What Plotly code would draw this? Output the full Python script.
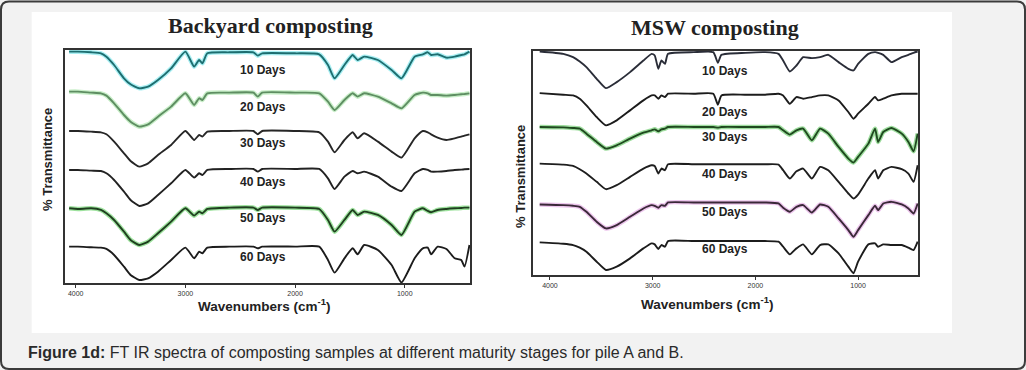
import plotly.graph_objects as go

# ---------------- data ----------------
day_labels = ["10 Days", "20 Days", "30 Days", "40 Days", "50 Days", "60 Days"]
tick_vals = [4000, 3000, 2000, 1000]
tick_text = ["4000", "3000", "2000", "1000"]

# Backyard composting (pile A): wavenumber grid (cm-1) and stacked % transmittance
wn_backyard = [4060, 3980, 3860, 3770, 3720, 3650, 3560, 3500, 3420, 3340, 3250, 3130,
               3000, 2920, 2875, 2845, 2800, 2600, 2380, 2340, 2300, 2000, 1780, 1700,
               1640, 1550, 1475, 1430, 1370, 1245, 1120, 1030, 910, 835, 790, 760, 700,
               620, 545, 485, 455, 410]
backyard_10d = [139, 139, 138.6, 138, 136, 131, 123, 119.4, 117, 118, 122, 129, 139, 130,
                134, 132, 138, 138.6, 138.6, 136.6, 138, 138, 137.4, 131, 123, 131, 137,
                134, 136, 134, 128, 123, 136, 137.4, 138.6, 137, 137.4, 135.4, 136, 137,
                137.4, 139]
backyard_20d = [115, 115, 114.4, 114, 112.6, 108, 101, 97, 94, 95.4, 100, 106, 114, 107,
                111, 110, 114, 114.4, 114.4, 112, 114.4, 114.4, 114, 109, 104, 110, 114,
                112, 114, 112, 108, 105, 113, 114.4, 114, 113, 113, 112.6, 113, 113.4,
                113.6, 114]
backyard_30d = [91.4, 91.4, 91, 90.6, 89.4, 85, 78, 73.4, 70, 72, 77, 83, 91.4, 86, 89, 88,
                91, 91.4, 91.4, 89.4, 91.4, 91.4, 90.6, 85, 78.6, 86, 90.6, 87, 90, 85, 79,
                75.4, 87, 91.4, 90.6, 89.4, 87.4, 86, 87, 88, 88.6, 89.4]
backyard_40d = [68, 68, 67.6, 67.4, 66, 62, 55, 50, 46.4, 48, 53, 60, 68, 63.4, 66, 65, 68,
                68.6, 68.6, 67, 68.6, 68.6, 68.6, 63, 56.6, 64, 67.4, 66, 67, 64, 58, 55.4,
                66, 68.6, 68, 67, 67, 67.4, 68, 68.2, 68.4, 68.6]
backyard_50d = [45, 44.6, 45, 44, 42, 38, 31, 26, 23, 25, 30, 37, 45, 40.6, 43, 42, 44.6,
                45.4, 45.4, 44, 45.4, 45.4, 44.6, 38, 31, 38, 44, 41, 43, 41, 35, 29, 43,
                45, 43.4, 42.6, 44, 44.6, 45, 45.2, 45.4, 45.4]
backyard_60d = [22, 22, 21.6, 21.4, 20.6, 17, 10, 5, 2, 3, 7, 14, 21.4, 15, 19, 18, 21.4,
                22, 22, 21, 22, 22, 22, 14, 6.4, 15, 21, 17.4, 23, 20, 11, 0.5, 15, 21,
                21.4, 17.4, 22, 20.6, 15, 14, 10, 23]

# MSW composting (pile B)
wn_msw = [4100, 3870, 3775, 3710, 3645, 3545, 3455, 3350, 3220, 3090, 3010, 2980, 2945,
          2915, 2880, 2850, 2600, 2410, 2365, 2330, 2100, 1905, 1775, 1730, 1665, 1600,
          1535, 1450, 1370, 1290, 1190, 1095, 1045, 1000, 900, 835, 805, 755, 675, 575,
          510, 460, 420]
msw_10d = [134.4, 133, 131, 128.4, 125, 118, 112.4, 116, 122, 129, 133, 132, 124, 129, 127,
           133, 134, 134, 127.6, 132.4, 133.6, 134, 133, 129, 122.4, 126, 131, 130.4, 131,
           132.4, 128, 124, 123, 127, 133, 134, 133.6, 132.4, 128, 131, 132.4, 133.6, 134.4]
msw_20d = [109.4, 108.4, 108, 106, 102, 95, 90, 93, 99, 105, 108, 108, 106, 108, 107, 109,
           109, 109, 102.4, 108, 108.4, 108.4, 109, 108, 103, 107, 106, 107, 108, 108, 105,
           98, 94, 97, 103, 107, 105, 106, 108, 109, 109, 109, 109]
msw_30d = [89, 88.8, 88.4, 88, 85, 80, 76, 78, 82, 85.6, 87, 87.6, 86.4, 87.6, 88, 89, 89,
           89, 88.6, 89, 89, 89, 89, 87, 84.4, 87, 88, 81, 88, 85, 77, 70, 67.6, 71, 79, 88,
           80, 86, 88.4, 85, 80, 74.4, 85]
msw_40d = [67, 66.4, 65.6, 63.6, 61, 56, 51.6, 54, 59, 64, 66, 65.6, 61, 64, 63, 66.6, 66.6,
           66.6, 66.6, 66.6, 66.6, 66.6, 66.4, 63, 58, 62.4, 64, 58, 65, 63, 56, 49, 46,
           48.4, 58, 63, 58, 63, 65, 63.6, 61, 56, 66]
msw_50d = [42.4, 42, 41.6, 41, 38, 32, 28, 30, 35, 40, 42, 41.6, 40.4, 42, 41.6, 43.6, 43.6,
           43.6, 43.6, 43.6, 43.6, 43.6, 43, 40.4, 38, 41, 42, 37.6, 42.4, 41, 34, 27, 23,
           27, 36, 41.6, 39, 43, 44, 42.4, 40, 37, 43]
msw_60d = [19.6, 18.8, 18, 16.4, 14, 8, 3, 5, 10, 16, 19, 18.4, 15.6, 18, 17, 20.4, 20.4,
           20.4, 20.4, 20.4, 20.4, 20.4, 20, 17, 12.4, 16, 18.4, 12.4, 18, 18.4, 13, 5, 1,
           8, 18.4, 19, 17, 18.4, 18, 18, 16.4, 15, 20]

# ---------------- styles ----------------
backyard_series = [backyard_10d, backyard_20d, backyard_30d, backyard_40d, backyard_50d, backyard_60d]
msw_series = [msw_10d, msw_20d, msw_30d, msw_40d, msw_50d, msw_60d]
backyard_line = ["#1d6e70", "#5e8e62", "#262626", "#222222", "#1f3f1f", "#1c1c1c"]
backyard_glow = ["rgba(40,215,225,0.40)", "rgba(110,210,110,0.38)", None, None,
                 "rgba(40,190,40,0.45)", None]
msw_line = ["#2a2d38", "#1c1c1c", "#1f4a1f", "#1e1e1e", "#3a2838", "#1c1c1c"]
msw_glow = [None, None, "rgba(40,180,40,0.45)", None, "rgba(200,90,200,0.35)", None]
label_y_backyard = [128, 105.8, 84.2, 60.8, 39.2, 15.8]
label_y_msw = [122.6, 98, 83, 60.6, 38, 15.4]

fig = go.Figure()


def add_panel(wn, series, lines, glows, xa, ya):
    for vals, lc, gc in zip(series, lines, glows):
        if gc:
            fig.add_trace(go.Scatter(x=wn, y=vals, mode="lines", xaxis=xa, yaxis=ya,
                                     line=dict(color=gc, width=4.5, shape="spline", smoothing=0.5),
                                     hoverinfo="skip", showlegend=False))
        fig.add_trace(go.Scatter(x=wn, y=vals, mode="lines", xaxis=xa, yaxis=ya,
                                 line=dict(color=lc, width=1.9, shape="spline", smoothing=0.5),
                                 showlegend=False))


add_panel(wn_backyard, backyard_series, backyard_line, backyard_glow, "x", "y")
add_panel(wn_msw, msw_series, msw_line, msw_glow, "x2", "y2")

axis_common = dict(showline=True, mirror=True, linecolor="#333333", linewidth=1.5,
                   showgrid=False, zeroline=False, fixedrange=True)
xcommon = dict(axis_common, tickvals=tick_vals, ticktext=tick_text, ticks="outside",
               ticklen=3, tickwidth=1, tickcolor="#333333",
               tickfont=dict(family="Arial, Liberation Sans", size=7, color="#333333"))
ycommon = dict(axis_common, showticklabels=False, ticks="")

annotations = []
for lbl, yv in zip(day_labels, label_y_backyard):
    annotations.append(dict(x=2295, y=yv, xref="x", yref="y", text="<b>%s</b>" % lbl,
                            xanchor="center", yanchor="middle", showarrow=False,
                            font=dict(family="Arial, Liberation Sans", size=12, color="#222222")))
for lbl, yv in zip(day_labels, label_y_msw):
    annotations.append(dict(x=2296, y=yv, xref="x2", yref="y2", text="<b>%s</b>" % lbl,
                            xanchor="center", yanchor="middle", showarrow=False,
                            font=dict(family="Arial, Liberation Sans", size=12, color="#222222")))

serif = dict(family="Liberation Serif, Times New Roman", size=22, color="#222222")
xt_font = dict(family="Arial, Liberation Sans", size=13.5, color="#222222")
yt_font = dict(family="Arial, Liberation Sans", size=13, color="#222222")
annotations += [
    dict(x=0.2632, y=0.9324, xref="paper", yref="paper", text="<b>Backyard composting</b>",
         showarrow=False, font=serif, xanchor="center", yanchor="middle"),
    dict(x=0.6969, y=0.927, xref="paper", yref="paper", text="<b>MSW composting</b>",
         showarrow=False, font=serif, xanchor="center", yanchor="middle"),
    dict(x=0.2573, y=0.1757, xref="paper", yref="paper",
         text="<b>Wavenumbers (cm<sup>-1</sup>)</b>", showarrow=False, font=xt_font,
         xanchor="center", yanchor="middle"),
    dict(x=0.6891, y=0.1811, xref="paper", yref="paper",
         text="<b>Wavenumbers (cm<sup>-1</sup>)</b>", showarrow=False, font=xt_font,
         xanchor="center", yanchor="middle"),
    dict(x=0.0468, y=0.5676, xref="paper", yref="paper", text="<b>% Transmittance</b>",
         textangle=-90, showarrow=False, font=yt_font, xanchor="center", yanchor="middle"),
    dict(x=0.5068, y=0.5243, xref="paper", yref="paper", text="<b>% Transmittance</b>",
         textangle=-90, showarrow=False, font=yt_font, xanchor="center", yanchor="middle"),
    dict(x=0.0253, y=0.0486, xref="paper", yref="paper", xanchor="left", yanchor="middle",
         text="<b>Figure 1d:</b> FT IR spectra of composting samples at different maturity stages for pile A and B.",
         showarrow=False, font=dict(family="Arial, Liberation Sans", size=16, color="#2a2a2a")),
]

# rounded outer frame
rx, ry = 8 / 1026, 8 / 370
x0, x1, y0, y1 = 1 / 1026, 1 - 1 / 1026, 1 / 370, 1 - 1.5 / 370
frame = (f"M {x0 + rx},{y1} L {x1 - rx},{y1} Q {x1},{y1} {x1},{y1 - ry} "
         f"L {x1},{y0 + ry} Q {x1},{y0} {x1 - rx},{y0} L {x0 + rx},{y0} "
         f"Q {x0},{y0} {x0},{y0 + ry} L {x0},{y1 - ry} Q {x0},{y1} {x0 + rx},{y1} Z")

shapes = [
    dict(type="rect", xref="paper", yref="paper", x0=0.0309, x1=0.9279, y0=0.1, y1=0.9676,
         fillcolor="white", line=dict(width=0), layer="below"),
    dict(type="path", xref="paper", yref="paper", path=frame,
         line=dict(color="#3c3c3c", width=2), layer="above"),
]

fig.update_layout(
    width=1026, height=370,
    margin=dict(l=0, r=0, t=0, b=0, pad=0),
    paper_bgcolor="#f2f2f2", plot_bgcolor="white",
    showlegend=False,
    xaxis=dict(xcommon, domain=[0.0631, 0.4581], range=[4100, 405], anchor="y"),
    yaxis=dict(ycommon, domain=[0.2343, 0.8649], range=[0, 140], anchor="x"),
    xaxis2=dict(xcommon, domain=[0.5195, 0.8950], range=[4165, 414], anchor="y2"),
    yaxis2=dict(ycommon, domain=[0.2568, 0.8635], range=[0, 135], anchor="x2"),
    annotations=annotations,
    shapes=shapes,
)

fig.write_html("out.html", config={"displayModeBar": False},
               post_script="document.body.style.margin='0px';document.body.style.padding='0px';"
                           "document.body.style.overflow='hidden';")
